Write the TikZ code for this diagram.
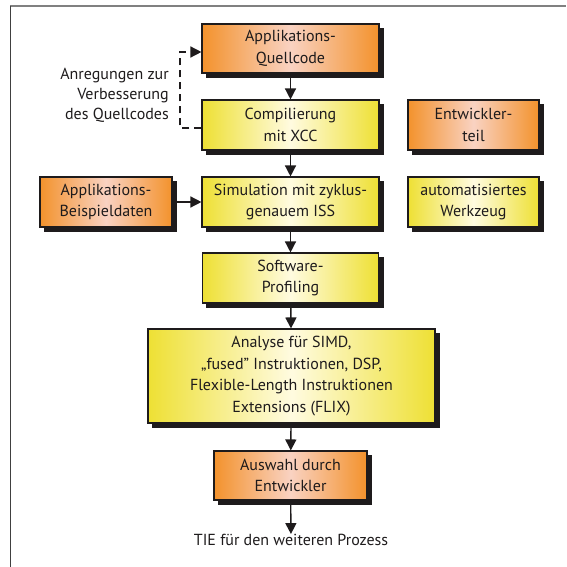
\documentclass[tikz,border=0pt]{standalone}
\usepackage{fontspec}
\setmainfont{PT Sans}
\usetikzlibrary{arrows.meta,backgrounds}
\definecolor{ink}{RGB}{30,27,28}
\definecolor{orA}{RGB}{243,146,44}
\definecolor{orB}{RGB}{249,210,194}
\definecolor{yeA}{RGB}{238,224,52}
\definecolor{yeB}{RGB}{255,251,224}
\tikzset{
  box/.style={draw=ink, line width=1.1pt, align=center, inner sep=0pt,
    font=\fontsize{16}{21.5}\selectfont, text=ink},
  orbox/.style={box, left color=orA, right color=orA, middle color=orB},
  yebox/.style={box, left color=yeA, right color=yeA, middle color=yeB},
  shadowbox/.style={fill=ink},
  flow/.style={draw=ink, line width=1.4pt, -{Triangle[width=11pt,length=11pt]}},
  feedback/.style={draw=ink, line width=1.4pt, dash pattern=on 7pt off 5pt},
  plain/.style={font=\fontsize{16}{20}\selectfont, text=ink, inner sep=0pt}
}
% drop shadow behind a named box
\newcommand{\boxshadow}[1]{%
  \begin{pgfonlayer}{background}
    \fill[shadowbox] ([xshift=4.5pt,yshift=-4.5pt]#1.south west) rectangle ([xshift=4.5pt,yshift=-4.5pt]#1.north east);
  \end{pgfonlayer}}
\begin{document}
\begin{tikzpicture}[x=1pt,y=-1pt]
\useasboundingbox (0,0) rectangle (566,567);
% frame lines
\draw[draw=black!50, line width=1.2pt] (10,6) -- (566,6);
\draw[draw=black!75, line width=1.2pt] (10.5,6) -- (10.5,567);

% main column
\node[orbox, minimum width=177pt, minimum height=49pt] (q) at (290.5,48.5) {Applikations-\\Quellcode};
\node[yebox, minimum width=177pt, minimum height=50pt] (c) at (290.5,125) {Compilierung\\mit XCC};
\node[yebox, minimum width=177pt, minimum height=50pt] (s) at (290.5,202) {Simulation mit zyklus-\\genauem ISS};
\node[yebox, minimum width=176pt, minimum height=50pt] (p) at (290.5,278) {Software-\\Profiling};
\node[yebox, minimum width=287pt, minimum height=94pt] (a) at (291.5,376)
  {Analyse für SIMD,\\„fused" Instruktionen, DSP,\\Flexible-Length Instruktionen\\Extensions (FLIX)};
\node[orbox, minimum width=153pt, minimum height=49pt] (w) at (290.5,475.5) {Auswahl durch\\Entwickler};
\node[plain] (t) at (291,540) {TIE für den weiteren Prozess};

% side boxes
\node[orbox, minimum width=132pt, minimum height=50pt] (d) at (106,202) {Applikations-\\Beispieldaten};
\node[orbox, minimum width=131pt, minimum height=50pt] (e) at (473.5,125) {Entwickler-\\teil};
\node[yebox, minimum width=131pt, minimum height=50pt] (z) at (473.5,202) {automatisiertes\\Werkzeug};

\boxshadow{q}\boxshadow{c}\boxshadow{s}\boxshadow{p}\boxshadow{a}
\boxshadow{w}\boxshadow{d}\boxshadow{e}\boxshadow{z}

% feedback label
\node[plain, align=right, anchor=east] (lbl) at (169,95) {Anregungen zur\\Verbesserung\\des Quellcodes};

% connectors
\draw[flow] (q) -- (c);
\draw[flow] (c) -- (s);
\draw[flow] (s) -- (p);
\draw[flow] (p) -- (a);
\draw[flow] (a) -- (w);
\draw[flow] (w) -- (t);
\draw[flow] (d) -- (s);

% dashed feedback loop
\coordinate (fbl) at (180,128);
\coordinate (fbt) at (180,52);
\draw[feedback] (c.west |- fbl) -- (fbl) -- (fbt) -- ([xshift=-8pt]q.west |- fbt);
\draw[flow] ([xshift=-9pt]q.west |- fbt) -- (q.west |- fbt);
\end{tikzpicture}
\end{document}
